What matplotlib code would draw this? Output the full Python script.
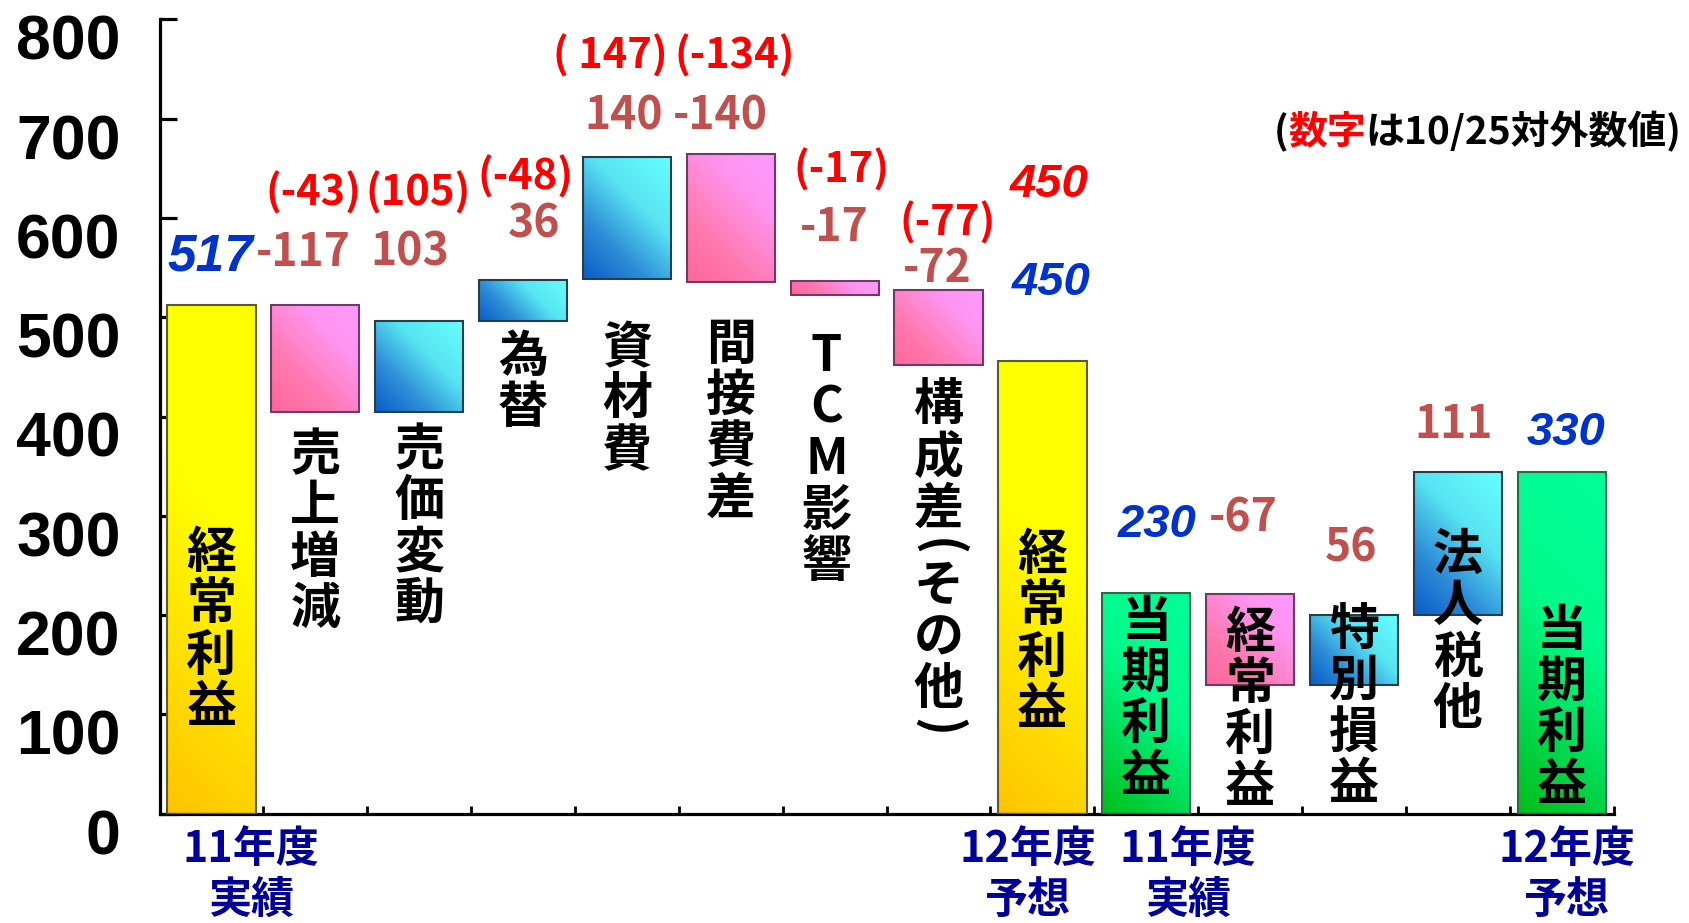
import numpy as np
import matplotlib
matplotlib.use('Agg')
import matplotlib.pyplot as plt
from matplotlib.colors import LinearSegmentedColormap
from matplotlib import transforms

plt.rcParams['font.family'] = ['Noto Sans CJK JP', 'DejaVu Sans']

# ---- data ----
categories = ['経常利益', '売上増減', '売価変動', '為替', '資材費', '間接費差', 'TCM影響',
              '構成差（その他）', '経常利益', '当期利益', '経常利益', '特別損益', '法人税他', '当期利益']
bar_bottom = [0, 405, 405, 496, 539, 536, 522, 452, 0, 0, 130, 130, 200, 0]
bar_top = [512, 512, 496, 538, 661, 664, 537, 527, 456, 222, 221, 200, 344, 344]
bar_kind = ['total', 'minus', 'plus', 'plus', 'plus', 'minus', 'minus', 'minus',
            'total', 'net', 'minus', 'plus', 'plus', 'net']
change_labels = ['', '-117', '103', '36', '140', '-140', '-17', '-72', '', '', '-67', '56', '111', '']
prior_labels = ['', '(-43)', '(105)', '(-48)', '( 147)', '(-134)', '(-17)', '(-77)', '450', '', '', '', '', '']
total_labels = ['517', '', '', '', '', '', '', '', '450', '230', '', '', '', '330']
period_top = ['11年度', '12年度', '11年度', '12年度']
period_bottom = ['実績', '予想', '実績', '予想']
y_ticks = [0, 100, 200, 300, 400, 500, 600, 700, 800]

# ---- layout of the hand placed texts ----
change_xy = [None, (0.88, 565), (1.91, 565), (3.11, 593), (3.97, 702), (4.90, 702), (6.00, 590),
             (6.99, 549), None, None, (9.93, 297), (10.97, 267), (11.96, 391), None]
prior_xy = [None, (0.98, 625), (1.99, 625), (3.02, 641), (3.84, 763), (5.04, 763), (6.07, 648),
            (7.09, 595), (8.07, 633), None, None, None, None, None]
total_xy = [(-0.01, 561), None, None, None, None, None, None, None, (8.08, 534), (9.10, 291),
            None, None, None, (13.04, 383)]
name_y = [262, 361, 366, 460, 468, 472, 460, 410, 260, 193, 182, 185, 260, 184]
name_dx = [0, 0, 0, 0, 0, 0, -0.08, 0, 0, 0, 0, 0, 0, 0]
period_x = [0.38, 7.86, 9.40, 13.05]

cmaps = {
    'total': LinearSegmentedColormap.from_list('y', [(0, '#FFC400'), (0.35, '#FFE600'), (0.6, '#FFFF00'), (1, '#FFFF00')]),
    'minus': LinearSegmentedColormap.from_list('p', [(0, '#FF6699'), (0.3, '#FF78AE'), (0.7, '#FF94F0'), (1, '#FF99FF')]),
    'plus': LinearSegmentedColormap.from_list('c', [(0, '#0A5CC8'), (0.3, '#2E8ED8'), (0.62, '#58E4F2'), (1, '#66FFFF')]),
    'net': LinearSegmentedColormap.from_list('g', [(0, '#00BE18'), (0.3, '#00DE5A'), (0.55, '#00FA8A'), (1, '#00FF99')]),
}
edges = {'total': '#5A5A30', 'minus': '#6E3A68', 'plus': '#253E48', 'net': '#2D6648'}

fig = plt.figure(figsize=(16.9, 9.23), dpi=100)
ax = fig.add_axes([0.0944, 0.1184, 0.8604, 0.8606])
ax.set_xlim(-0.5, 13.5)
ax.set_ylim(0, 800)

x = np.arange(len(categories))
heights = np.array(bar_top) - np.array(bar_bottom)
bars = ax.bar(x, heights, bottom=bar_bottom, width=0.85, facecolor='none',
              edgecolor=[edges[k] for k in bar_kind], linewidth=1.5, zorder=3)

# gradient fill for every bar
uu, vv = np.meshgrid(np.linspace(0, 1, 60), np.linspace(0, 1, 120))
for patch, kind in zip(bars, bar_kind):
    x0, y0 = patch.get_x(), patch.get_y()
    x1, y1 = x0 + patch.get_width(), y0 + patch.get_height()
    p0 = ax.transData.transform((x0, y0))
    p1 = ax.transData.transform((x1, y1))
    w, h = p1[0] - p0[0], p1[1] - p0[1]
    grad = np.clip((uu * w + vv * h) / (w + h), 0, 1)
    im = ax.imshow(grad, extent=(x0, x1, y0, y1), origin='lower', aspect='auto',
                   cmap=cmaps[kind], vmin=0, vmax=1, interpolation='bilinear', zorder=2)
    im.set_clip_path(patch)
ax.set_xlim(-0.5, 13.5)
ax.set_ylim(0, 800)

# axes styling
for s in ['top', 'right']:
    ax.spines[s].set_visible(False)
for s in ['left', 'bottom']:
    ax.spines[s].set_linewidth(2.3)
ax.set_xticks(np.arange(-0.5, 14, 1))
ax.set_xticklabels([])
ax.tick_params(axis='x', direction='in', length=6, width=2)
ax.set_yticks(y_ticks)
ax.set_yticklabels([str(v) for v in y_ticks], fontsize=45, fontweight='bold', family='Liberation Sans')
ax.tick_params(axis='y', direction='in', length=12, width=2.3, pad=28)
off = transforms.ScaledTranslation(0, -12.5 / 72, fig.dpi_scale_trans)
for lab in ax.get_yticklabels():
    lab.set_transform(lab.get_transform() + off)

# vertical category names
pitch = 37
for i, name in enumerate(categories):
    pos = 0.0
    prev = None
    for ch in name:
        adv = 0.5 if ch in '（）' else 1.0
        if prev is not None:
            pos += (prev + adv) / 2
        prev = adv
        kw = dict(xy=(i + name_dx[i], name_y[i]), xytext=(0, -pos * pitch), textcoords='offset points',
                  ha='center', va='center', fontsize=36, fontweight='bold', color='black', zorder=5)
        if ch in '（）':
            ax.annotate('(' if ch == '（' else ')', rotation=-90, **kw)
        else:
            ax.annotate(ch, **kw)

# value labels
for lab, xy in zip(change_labels, change_xy):
    if xy:
        ax.text(xy[0], xy[1], lab, ha='center', va='center', fontsize=32, fontweight='bold',
                color='#C0504D', zorder=5)
for i, (lab, xy) in enumerate(zip(prior_labels, prior_xy)):
    if xy:
        if bar_kind[i] == 'total':
            ax.text(xy[0], xy[1], lab, ha='center', va='center', fontsize=34, fontweight='bold',
                    style='italic', family='Liberation Sans', color='red', zorder=5)
        else:
            ax.text(xy[0], xy[1], lab, ha='center', va='center', fontsize=30, fontweight='bold',
                    color='red', zorder=5)
for i, (lab, xy) in enumerate(zip(total_labels, total_xy)):
    if xy:
        ax.text(xy[0], xy[1], lab, ha='center', va='center', fontsize=37 if i == 0 else 34,
                fontweight='bold', style='italic', family='Liberation Sans', color='#0033CC', zorder=5)

# period labels under the axis
for px, t1, t2 in zip(period_x, period_top, period_bottom):
    ax.text(px, -36, t1, ha='center', va='center', fontsize=31, fontweight='bold', color='#000099', clip_on=False)
    ax.text(px, -87, t2, ha='center', va='center', fontsize=31, fontweight='bold', color='#000099', clip_on=False)

# note in the upper right, "数字" in red
renderer = fig.canvas.get_renderer()
pieces = [('(', 'black'), ('数字', 'red'), ('は10/25対外数値)', 'black')]
xr = 0.995
for txt, col in reversed(pieces):
    t = fig.text(xr, 0.857, txt, ha='right', va='center', fontsize=28, fontweight='bold', color=col)
    bb = t.get_window_extent(renderer)
    xr -= bb.width / fig.bbox.width

fig.savefig('out.png', dpi=100)
